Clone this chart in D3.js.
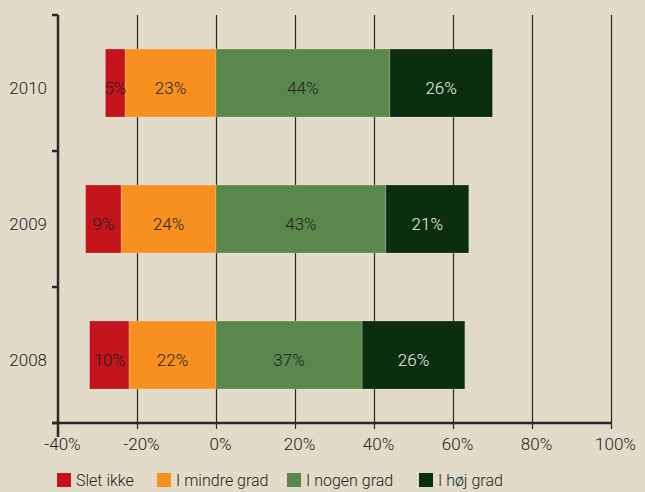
<!DOCTYPE html>
<html>
<head>
<meta charset="utf-8">
<script src="https://cdn.jsdelivr.net/npm/d3@7"></script>
<style>
  html, body { margin: 0; padding: 0; background: #e2dbca; }
  svg { display: block; }
  text { font-family: Roboto, "Liberation Sans", sans-serif; font-weight: 300; fill: #222; }
</style>
</head>
<body>
<svg id="chart"></svg>
<script>
const years = ["2010", "2009", "2008"];
const series = ["Slet ikke", "I mindre grad", "I nogen grad", "I høj grad"];
const sletIkke = [5, 9, 10];
const iMindreGrad = [23, 24, 22];
const iNogenGrad = [44, 43, 37];
const iHoejGrad = [26, 21, 26];
const xTicks = [-40, -20, 0, 20, 40, 60, 80, 100];
const colors = ["#c3131b", "#f7901e", "#5a874b", "#0a2e0e"];

const width = 645, height = 492;
const margin = { top: 15, right: 34, bottom: 69, left: 58 };

const svg = d3.select("#chart").attr("width", width).attr("height", height);

const x = d3.scaleLinear().domain([-40, 100]).range([margin.left, width - margin.right]);
const y = d3.scaleBand().domain(years).range([margin.top, height - margin.bottom])
    .paddingInner(0.5).paddingOuter(0.25);

// build segments: negatives stack left from 0, positives right from 0
const rows = years.map((yr, i) => {
    const v = [sletIkke[i], iMindreGrad[i], iNogenGrad[i], iHoejGrad[i]];
    return [
        { year: yr, k: 0, x0: -(v[0] + v[1]), x1: -v[1], v: v[0] },
        { year: yr, k: 1, x0: -v[1], x1: 0, v: v[1] },
        { year: yr, k: 2, x0: 0, x1: v[2], v: v[2] },
        { year: yr, k: 3, x0: v[2], x1: v[2] + v[3], v: v[3] }
    ];
}).flat();

// vertical grid lines (behind bars), with small ticks below the axis
svg.append("g")
    .selectAll("line")
    .data(xTicks.slice(1))
    .join("line")
    .attr("x1", d => Math.round(x(d)) + 0.5).attr("x2", d => Math.round(x(d)) + 0.5)
    .attr("y1", margin.top).attr("y2", height - margin.bottom + 6)
    .attr("stroke", "#262626")
    .attr("stroke-width", 1.2);

// bars
svg.append("g")
    .selectAll("rect")
    .data(rows)
    .join("rect")
    .attr("x", d => x(d.x0))
    .attr("y", d => y(d.year))
    .attr("width", d => x(d.x1) - x(d.x0))
    .attr("height", y.bandwidth())
    .attr("fill", d => colors[d.k])
    .attr("stroke", "rgba(255,255,255,0.25)")
    .attr("stroke-width", 0.8);

// bar labels
svg.append("g")
    .selectAll("text")
    .data(rows)
    .join("text")
    .attr("x", d => (x(d.x0) + x(d.x1)) / 2)
    .attr("y", d => y(d.year) + y.bandwidth() / 2 + 11)
    .attr("text-anchor", "middle")
    .style("font-size", "17px")
    .style("fill", d => d.k === 3 ? "#f2f2ec" : "#222")
    .text(d => d.v + "%");

// x axis
const xAxis = svg.append("g")
    .attr("transform", `translate(0, ${height - margin.bottom})`)
    .call(d3.axisBottom(x).tickValues(xTicks).tickSize(0).tickPadding(15).tickFormat(d => d + "%"));
xAxis.select(".domain").remove();
xAxis.selectAll("text")
    .attr("dx", 4)
    .style("font-size", "17px")
    .style("font-family", "Roboto, 'Liberation Sans', sans-serif");
xAxis.append("line")
    .attr("x1", margin.left - 6).attr("x2", width - margin.right + 1)
    .attr("stroke", "#2a2a2a").attr("stroke-width", 2.5);

// y axis
const yAxis = svg.append("g")
    .attr("transform", `translate(${margin.left}, 0)`)
    .call(d3.axisLeft(y).tickSize(0).tickPadding(11));
yAxis.select(".domain").remove();
yAxis.selectAll("text")
    .attr("dy", null)
    .attr("y", 11)
    .style("font-size", "17px")
    .style("font-family", "Roboto, 'Liberation Sans', sans-serif");
yAxis.append("line")
    .attr("y1", margin.top).attr("y2", height - margin.bottom + 14)
    .attr("stroke", "#2a2a2a").attr("stroke-width", 2.5);
// category separator ticks
const sepY = d3.range(years.length + 1).map(i => margin.top + i * y.step());
yAxis.append("g")
    .selectAll("line")
    .data(sepY)
    .join("line")
    .attr("x1", -6).attr("x2", 0)
    .attr("y1", d => d).attr("y2", d => d)
    .attr("stroke", "#2a2a2a").attr("stroke-width", 2.5);

// legend
const legendX = [57, 157, 287, 419];
const legend = svg.append("g")
    .selectAll("g")
    .data(series)
    .join("g")
    .attr("transform", (d, i) => `translate(${legendX[i]}, 473)`);
legend.append("rect")
    .attr("width", 14).attr("height", 14)
    .attr("fill", (d, i) => colors[i]);
legend.append("text")
    .attr("x", 19).attr("y", 13)
    .style("font-size", "16px")
    .text(d => d);
</script>
</body>
</html>
